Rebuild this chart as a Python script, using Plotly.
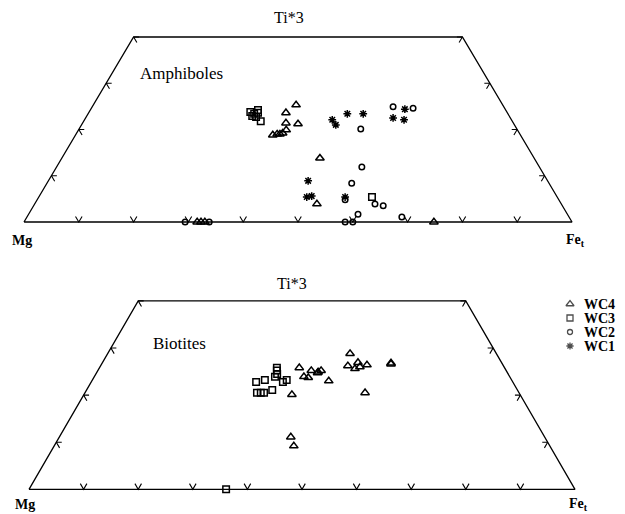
import plotly.graph_objects as go

# ---------------- data: (Ti*3 %, Fe %) per sample; Mg = 100 - Ti3 - Fe ----------------
# Amphiboles
amph_wc4_ti = [25.3, 23.6, 21.4, 21.2, 18.8, 19.0, 19.0, 19.2, 19.9, 13.8, 3.9, 0.0, 0.0, 0.0, 0.0]
amph_wc4_fe = [37.0, 36.0, 37.1, 39.4, 36.0, 36.7, 37.2, 37.6, 37.9, 47.1, 51.5, 31.6, 32.3, 33.0, 74.8]
amph_wc3_ti = [23.8, 23.4, 24.2, 23.6, 22.7, 21.8, 22.9, 5.4]
amph_wc3_fe = [29.4, 30.3, 30.6, 30.9, 31.0, 32.3, 30.2, 60.8]
amph_wc2_ti = [24.9, 24.6, 20.1, 11.9, 8.4, 4.8, 3.9, 3.5, 1.7, 1.1, 0.0, 0.0, 0.0, 0.0]
amph_wc2_fe = [54.9, 58.7, 51.4, 55.7, 55.6, 56.2, 62.1, 63.8, 60.1, 68.4, 58.6, 60.0, 33.8, 29.4]
amph_wc1_ti = [22.1, 21.0, 23.4, 23.4, 22.5, 24.4, 22.1, 8.9, 5.4, 5.6, 5.4]
amph_wc1_fe = [45.2, 46.4, 47.3, 50.2, 56.1, 57.3, 58.3, 47.4, 48.9, 49.7, 55.9]

# Biotites
biot_wc4_ti = [25.8, 25.2, 23.9, 23.7, 24.9, 24.7, 25.2, 23.0, 20.1, 28.8, 26.2, 26.9, 25.6,
               26.0, 26.4, 26.6, 26.8, 20.5, 11.1, 9.2]
biot_wc4_fe = [36.6, 39.1, 38.4, 39.3, 40.5, 40.5, 40.9, 43.4, 38.1, 44.4, 45.3, 46.8, 46.9,
               47.6, 48.7, 53.0, 52.9, 51.3, 42.4, 43.9]
biot_wc3_ti = [22.8, 23.2, 23.9, 25.2, 25.8, 24.5, 22.8, 23.2, 20.5, 20.5, 20.5, 21.1, 0.0]
biot_wc3_fe = [30.2, 31.6, 33.1, 32.8, 32.5, 33.2, 35.1, 35.6, 31.5, 32.2, 32.8, 34.0, 36.1]
biot_wc2_ti, biot_wc2_fe = [], []
biot_wc1_ti, biot_wc1_fe = [], []

series_names = ["WC4", "WC3", "WC2", "WC1"]
series_symbols = ["triangle-up-open", "square-open", "circle-open", "asterisk-open"]
series_sizes = [7.5, 6.5, 5.5, 6.5]

tick_fracs = [0.1, 0.2, 0.3, 0.4, 0.5, 0.6, 0.7, 0.8, 0.9]
side_tick_fracs = [0.1, 0.2, 0.3, 0.4]
ti_max = 0.4
panel_titles = ["Amphiboles", "Biotites"]

SERIF = "Liberation Serif, DejaVu Serif, serif"


def to_xy(ti_pct, fe_pct):
    t = [v / 100 for v in ti_pct]
    x = [f / 100 + tt / 2 for f, tt in zip(fe_pct, t)]
    return x, t


fig = go.Figure()

panels = [
    ("x", "y", [(amph_wc4_ti, amph_wc4_fe), (amph_wc3_ti, amph_wc3_fe),
                (amph_wc2_ti, amph_wc2_fe), (amph_wc1_ti, amph_wc1_fe)]),
    ("x2", "y2", [(biot_wc4_ti, biot_wc4_fe), (biot_wc3_ti, biot_wc3_fe),
                  (biot_wc2_ti, biot_wc2_fe), (biot_wc1_ti, biot_wc1_fe)]),
]
# label placement per panel (in panel data units)
title_pos = [(0.288, 0.322), (0.276, 0.309)]
apex_pos = [(0.484, 0.443), (0.482, 0.437)]
mg_pos = [(-0.004, -0.039), (-0.007, -0.033)]
fe_pos = [(1.006, -0.039), (1.006, -0.033)]

Lt = 0.012   # tick arm length along Ti axis
Lx = 0.010   # horizontal tick arm length

for pi, (xa, ya, data) in enumerate(panels):
    # frame (truncated ternary)
    fx = [0, 1, 1 - ti_max / 2, ti_max / 2, 0]
    fy = [0, 0, ti_max, ti_max, 0]
    fig.add_trace(go.Scatter(x=fx, y=fy, mode="lines", line=dict(color="black", width=1.3),
                             xaxis=xa, yaxis=ya, showlegend=False, hoverinfo="skip"))
    # ticks
    tx, ty = [], []
    for f in tick_fracs:
        tx += [f - Lt / 2, f, f + Lt / 2, None]
        ty += [Lt, 0, Lt, None]
    for t in side_tick_fracs:
        x0 = t / 2
        tx += [x0 + Lx, x0, x0 + Lt / 2, None]
        ty += [t, t, t - Lt, None]
        x1 = 1 - t / 2
        tx += [x1 - Lx, x1, x1 - Lt / 2, None]
        ty += [t, t, t - Lt, None]
    fig.add_trace(go.Scatter(x=tx, y=ty, mode="lines", line=dict(color="black", width=1.1),
                             xaxis=xa, yaxis=ya, showlegend=False, hoverinfo="skip"))
    # data series
    for si, (ti, fe) in enumerate(data):
        x, y = to_xy(ti, fe)
        fig.add_trace(go.Scatter(
            x=x, y=y, mode="markers", name=series_names[si],
            marker=dict(symbol=series_symbols[si], size=series_sizes[si], color="black",
                        line=dict(color="black", width=1.5)),
            xaxis=xa, yaxis=ya, showlegend=False))

    # labels
    fig.add_annotation(x=apex_pos[pi][0], y=apex_pos[pi][1], xref=xa, yref=ya, text="Ti*3",
                       showarrow=False, font=dict(family=SERIF, size=16, color="black"))
    fig.add_annotation(x=title_pos[pi][0], y=title_pos[pi][1], xref=xa, yref=ya, text=panel_titles[pi],
                       showarrow=False, font=dict(family=SERIF, size=17, color="black"))
    fig.add_annotation(x=mg_pos[pi][0], y=mg_pos[pi][1], xref=xa, yref=ya, text="<b>Mg</b>",
                       showarrow=False, font=dict(family=SERIF, size=14, color="black"))
    fig.add_annotation(x=fe_pos[pi][0], y=fe_pos[pi][1], xref=xa, yref=ya, text="<b>Fe<sub>t</sub></b>",
                       showarrow=False, font=dict(family=SERIF, size=14, color="black"))

# legend (drawn manually on a pixel overlay axis)
W, H = 625, 514
leg_sym_x = 570
leg_txt_x = 582
leg_rows = [304, 318, 332, 346]
fig.add_trace(go.Scatter(
    x=[leg_sym_x] * 4, y=leg_rows, mode="markers",
    marker=dict(symbol=series_symbols, size=[s - 0.5 for s in series_sizes], color="black",
                line=dict(color="black", width=1.3)),
    xaxis="x3", yaxis="y3", showlegend=False, hoverinfo="skip"))
for name, yy in zip(series_names, leg_rows):
    fig.add_annotation(x=leg_txt_x, y=yy, xref="x3", yref="y3", text="<b>" + name + "</b>",
                       showarrow=False, xanchor="left", yanchor="middle",
                       font=dict(family=SERIF, size=14, color="black"))

# axes: pixel-calibrated ranges
top_base_px, top_unit = 222.0, 462.5
top_x0, top_xs = 24.0, 548.0
bot_base_px, bot_unit = 489.3, 471.0
bot_x0, bot_xs = 29.0, 546.0
split = 257.0

ax_common = dict(visible=False, showgrid=False, zeroline=False, fixedrange=True)
fig.update_layout(
    width=W, height=H, margin=dict(l=0, r=0, t=0, b=0),
    paper_bgcolor="white", plot_bgcolor="rgba(0,0,0,0)",
    xaxis=dict(domain=[0, 1], range=[-top_x0 / top_xs, (W - top_x0) / top_xs], anchor="y", **ax_common),
    yaxis=dict(domain=[1 - split / H, 1], range=[(top_base_px - split) / top_unit, top_base_px / top_unit],
               anchor="x", **ax_common),
    xaxis2=dict(domain=[0, 1], range=[-bot_x0 / bot_xs, (W - bot_x0) / bot_xs], anchor="y2", **ax_common),
    yaxis2=dict(domain=[0, 1 - split / H], range=[(bot_base_px - H) / bot_unit, (bot_base_px - split) / bot_unit],
                anchor="x2", **ax_common),
    xaxis3=dict(domain=[0, 1], range=[0, W], anchor="y3", **ax_common),
    yaxis3=dict(domain=[0, 1], range=[H, 0], anchor="x3", **ax_common),
    showlegend=False,
)

fig.write_html("out.html", config={"displayModeBar": False},
               post_script="document.body.style.margin='0';document.body.style.overflow='hidden';")
